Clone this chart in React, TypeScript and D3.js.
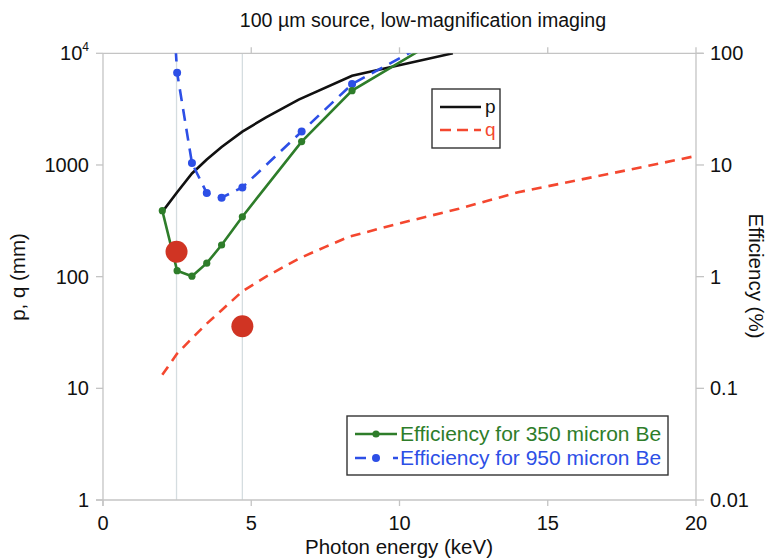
import React from "react";
import * as d3 from "d3";

// Source-to-optic (p) and optic-to-detector (q) distances, mm
const pEnergy = [2, 2.5, 3, 3.5, 4, 4.7, 5.5, 6.6, 8.4, 11.8];
const pValues = [380, 570, 840, 1120, 1450, 1990, 2670, 3850, 6300, 10000];

const qEnergy = [2, 2.5, 3, 3.5, 4, 4.7, 5.5, 6.6, 7.5, 8.3, 10, 12, 14, 16, 18, 20];
const qValues = [13.2, 20.5, 28, 38, 50, 74, 100, 145, 185, 228, 300, 405, 570, 730, 935, 1205];

// Efficiency (%) behind beryllium windows of two thicknesses
const effEnergy = [2, 2.5, 3, 3.5, 4, 4.7, 6.7, 8.4, 11];
const eff350 = [3.9, 1.13, 1.01, 1.32, 1.92, 3.44, 16.2, 46.3, 119];
const eff950 = [10000, 67, 10.4, 5.6, 5.1, 6.3, 19.9, 53, 126];

// Measured operating points (mm)
const markEnergy = [2.48, 4.7];
const markValues = [167, 36];

const xTicks = [0, 5, 10, 15, 20];
const leftTicks = [1, 10, 100, 1000, 10000];
const leftTickLabels = ["1", "10", "100", "1000", "10^4"];
const rightTicks = [0.01, 0.1, 1, 10, 100];
const rightTickLabels = ["0.01", "0.1", "1", "10", "100"];

const W = 770;
const H = 558;
const m = { left: 103, right: 696, top: 53.3, bottom: 500 };
const font = "'Liberation Sans', Arial, Helvetica, sans-serif";

export default function App() {
  const x = d3.scaleLinear().domain([0, 20]).range([m.left, m.right]);
  const yL = d3.scaleLog().domain([1, 10000]).range([m.bottom, m.top]);
  const yR = d3.scaleLog().domain([0.01, 100]).range([m.bottom, m.top]);

  const lineL = d3
    .line<[number, number]>()
    .x((d) => x(d[0]))
    .y((d) => yL(d[1]));
  const lineR = d3
    .line<[number, number]>()
    .x((d) => x(d[0]))
    .y((d) => yR(d[1]));

  const pPts = pEnergy.map((e, i) => [e, pValues[i]] as [number, number]);
  const qPts = qEnergy.map((e, i) => [e, qValues[i]] as [number, number]);
  const e350 = effEnergy.map((e, i) => [e, eff350[i]] as [number, number]);
  const e950 = effEnergy.map((e, i) => [e, eff950[i]] as [number, number]);

  const axisCol = "#c4c4c4";
  const green = "#2e7d2a";
  const blue = "#2d4fe6";
  const red = "#f4472f";
  const dotRed = "#d03423";
  const tickFont = 20;

  return (
    <svg width={W} height={H} style={{ display: "block", position: "absolute", left: 0, top: 0 }} fontFamily={font}>
      <defs>
        <clipPath id="plot">
          <rect x={m.left} y={m.top} width={m.right - m.left} height={m.bottom - m.top} />
        </clipPath>
      </defs>
      <rect width={W} height={H} fill="#fff" />

      {/* title */}
      <text x={423} y={27} textAnchor="middle" fontSize={19.6} fill="#111">
        100 µm source, low-magnification imaging
      </text>

      {/* reference lines at the measured energies */}
      {markEnergy.map((e, i) => (
        <line key={"g" + i} x1={x(e)} x2={x(e)} y1={m.top} y2={m.bottom} stroke="#d5dde0" strokeWidth={1.3} />
      ))}

      {/* frame */}
      <line x1={m.left} x2={m.right + 7} y1={m.top} y2={m.top} stroke={axisCol} strokeWidth={1.3} />
      <line x1={m.left - 7} x2={m.right} y1={m.bottom} y2={m.bottom} stroke={axisCol} strokeWidth={1.3} />
      <line x1={m.left} x2={m.left} y1={m.top} y2={m.bottom + 6} stroke={axisCol} strokeWidth={1.3} />
      <line x1={m.right} x2={m.right} y1={m.top - 6} y2={m.bottom} stroke={axisCol} strokeWidth={1.3} />

      {/* x axis ticks */}
      {xTicks.map((t) => (
        <g key={"x" + t}>
          <line x1={x(t)} x2={x(t)} y1={m.bottom} y2={m.bottom + 6} stroke={axisCol} strokeWidth={1.3} />
          {t > 0 && t < 20 && (
            <line x1={x(t)} x2={x(t)} y1={m.top} y2={m.top - 6} stroke={axisCol} strokeWidth={1.3} />
          )}
          <text x={x(t)} y={530} textAnchor="middle" fontSize={tickFont} fill="#111">
            {t}
          </text>
        </g>
      ))}

      {/* left axis */}
      {leftTicks.map((t, i) => (
        <g key={"l" + t}>
          <line x1={m.left - 7} x2={m.left} y1={yL(t)} y2={yL(t)} stroke={axisCol} strokeWidth={1.3} />
          {leftTickLabels[i] === "10^4" ? (
            <text x={89} y={yL(t) + 7} textAnchor="end" fontSize={tickFont} fill="#111">
              10
              <tspan fontSize={12} dy={-9}>
                4
              </tspan>
            </text>
          ) : (
            <text x={89} y={yL(t) + 7} textAnchor="end" fontSize={tickFont} fill="#111">
              {leftTickLabels[i]}
            </text>
          )}
        </g>
      ))}

      {/* right axis */}
      {rightTicks.map((t, i) => (
        <g key={"r" + t}>
          <line x1={m.right} x2={m.right + 8} y1={yR(t)} y2={yR(t)} stroke={axisCol} strokeWidth={1.3} />
          <text x={710} y={yR(t) + 7} textAnchor="start" fontSize={tickFont} fill="#111">
            {rightTickLabels[i]}
          </text>
        </g>
      ))}

      {/* axis titles */}
      <text x={399} y={554} textAnchor="middle" fontSize={20.5} fill="#111">
        Photon energy (keV)
      </text>
      <text transform="translate(25,277) rotate(-90)" textAnchor="middle" fontSize={20.5} fill="#111">
        p, q (mm)
      </text>
      <text transform="translate(749,276) rotate(90)" textAnchor="middle" fontSize={20.5} fill="#111">
        Efficiency (%)
      </text>

      <g clipPath="url(#plot)">
        {/* q */}
        <path d={lineL(qPts) || ""} fill="none" stroke={red} strokeWidth={2.6} strokeDasharray="10 7" />
        {/* p */}
        <path d={lineL(pPts) || ""} fill="none" stroke="#111" strokeWidth={2.6} />
        {/* 950 micron Be */}
        <path d={lineR(e950) || ""} fill="none" stroke={blue} strokeWidth={2.6} strokeDasharray="12 8" />
        {e950.map((d, i) => (
          <circle key={"b" + i} cx={x(d[0])} cy={yR(d[1])} r={4} fill={blue} />
        ))}
        {/* 350 micron Be */}
        <path d={lineR(e350) || ""} fill="none" stroke={green} strokeWidth={2.6} />
        {e350.map((d, i) => (
          <circle key={"gr" + i} cx={x(d[0])} cy={yR(d[1])} r={3.6} fill={green} />
        ))}
        {/* measured points */}
        {markEnergy.map((e, i) => (
          <circle key={"m" + i} cx={x(e)} cy={yL(markValues[i])} r={11} fill={dotRed} />
        ))}
      </g>

      {/* legend p/q */}
      <g>
        <rect x={432} y={89} width={68} height={59} fill="#fff" stroke="#333" strokeWidth={1.4} />
        <line x1={440} x2={481} y1={107} y2={107} stroke="#111" strokeWidth={2.6} />
        <text x={485} y={113} fontSize={19} fill="#111">p</text>
        <line x1={440} x2={481} y1={130} y2={130} stroke={red} strokeWidth={2.6} strokeDasharray="11 6" />
        <text x={485} y={136} fontSize={19} fill={red}>q</text>
      </g>

      {/* legend efficiency */}
      <g>
        <rect x={347} y={416} width={321} height={59} fill="#fff" stroke="#333" strokeWidth={1.4} />
        <line x1={355} x2={397} y1={434} y2={434} stroke={green} strokeWidth={2.6} />
        <circle cx={376} cy={434} r={3.6} fill={green} />
        <text x={400} y={441} fontSize={21} fill={green}>Efficiency for 350 micron Be</text>
        <line x1={355} x2={398} y1={458} y2={458} stroke={blue} strokeWidth={2.6} strokeDasharray="11 27" />
        <circle cx={376} cy={458} r={4} fill={blue} />
        <text x={400} y={465} fontSize={21} fill={blue}>Efficiency for 950 micron Be</text>
      </g>
    </svg>
  );
}
